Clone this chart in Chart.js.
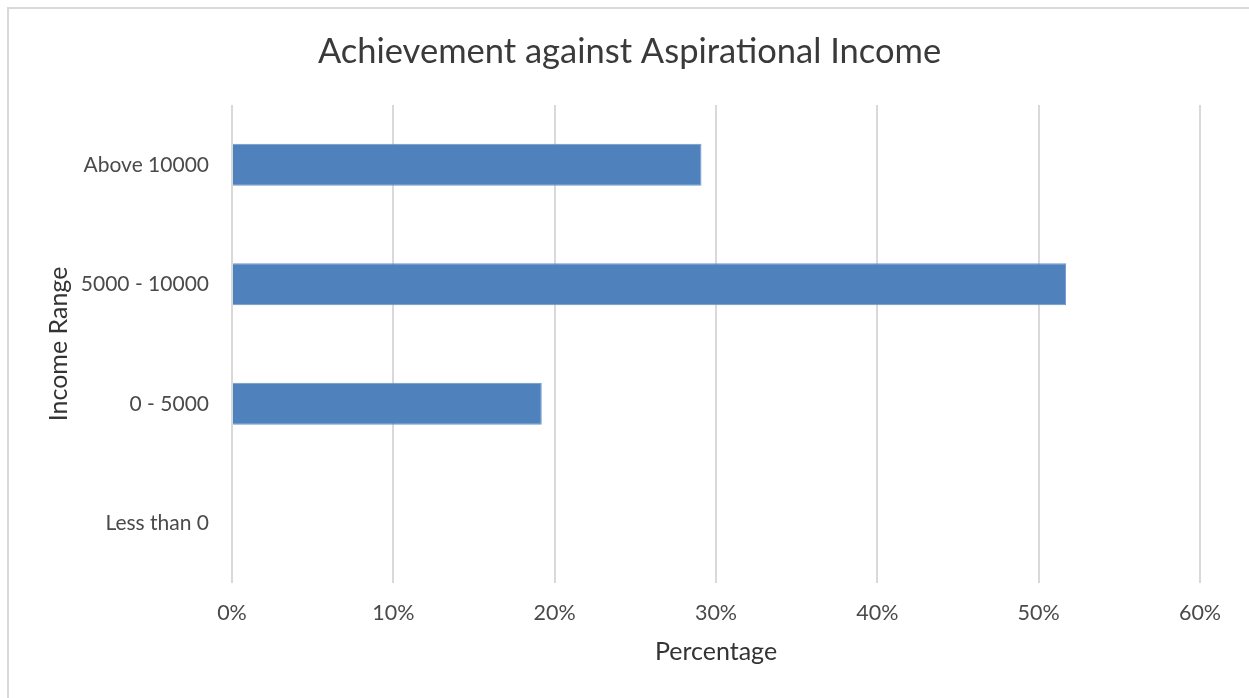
<!DOCTYPE html>
<html>
<head>
<meta charset="utf-8">
<title>Achievement against Aspirational Income</title>
<script src="https://cdn.jsdelivr.net/npm/chart.js@4/dist/chart.umd.min.js"></script>
<style>
  html, body { margin: 0; padding: 0; background: #fff; }
  #wrap { position: relative; width: 1249px; height: 698px; }
</style>
</head>
<body>
<div id="wrap"><canvas id="incomeChart" width="1249" height="698"></canvas></div>
<script>
// data
const incomeRanges = ['Above 10000', '5000 - 10000', '0 - 5000', 'Less than 0'];
const percentages = [29.1, 51.7, 19.2, 0];
const xTicks = [0, 10, 20, 30, 40, 50, 60];

const textGrey = '#4a4a4a';
const fontFam = 'Lato, "Liberation Sans", sans-serif';

// light frame around the whole chart, like the excel export
const framePlugin = {
    id: 'frame',
    beforeDraw(chart) {
        const ctx = chart.ctx;
        ctx.save();
        ctx.strokeStyle = '#d9d9d9';
        ctx.lineWidth = 2;
        ctx.strokeRect(8, 8, 1260, 720);
        ctx.restore();
    }
};

new Chart(document.getElementById('incomeChart').getContext('2d'), {
    type: 'bar',
    data: {
        labels: incomeRanges,
        datasets: [{
            data: percentages,
            backgroundColor: '#4f81bd',
            borderColor: '#6d98cc',
            borderWidth: 1,
            categoryPercentage: 0.7,
            barPercentage: 0.5
        }]
    },
    options: {
        indexAxis: 'y',
        responsive: false,
        animation: false,
        layout: { padding: { left: 10, right: 0, top: 0, bottom: 0 } },
        plugins: {
            legend: { display: false },
            tooltip: { enabled: false },
            title: {
                display: true,
                text: 'Achievement against Aspirational Income',
                color: '#3a3a3a',
                font: { family: fontFam, size: 34.5, weight: 'normal' },
                padding: { top: 31, bottom: 32.6 }
            }
        },
        scales: {
            x: {
                min: 0,
                max: 60,
                afterBuildTicks: (s) => { s.ticks = xTicks.map(v => ({ value: v })); },
                afterFit: (s) => { s.height = 115; },
                border: { display: false },
                grid: { color: '#d9d9d9', lineWidth: 2, drawTicks: false },
                ticks: {
                    color: textGrey,
                    padding: 17,
                    font: { family: fontFam, size: 21.5 },
                    callback: (v) => v + '%'
                },
                title: {
                    display: true,
                    text: 'Percentage',
                    color: '#333',
                    font: { family: fontFam, size: 25 },
                    padding: { top: 0, bottom: 31 }
                }
            },
            y: {
                afterFit: (s) => { s.width = 222; },
                border: { display: false },
                grid: { display: false, drawTicks: false },
                ticks: {
                    color: textGrey,
                    padding: 23,
                    font: { family: fontFam, size: 21 }
                },
                title: {
                    display: true,
                    text: 'Income Range',
                    color: '#333',
                    font: { family: fontFam, size: 25 },
                    padding: { top: 34, bottom: 0 }
                }
            },
            // empty right-hand axis, only keeps the plot edge at 60%
            yRight: {
                type: 'linear',
                position: 'right',
                display: true,
                afterFit: (s) => { s.width = 49; },
                border: { display: false },
                grid: { display: false, drawTicks: false },
                ticks: { display: false }
            }
        }
    },
    plugins: [framePlugin]
});
</script>
</body>
</html>
